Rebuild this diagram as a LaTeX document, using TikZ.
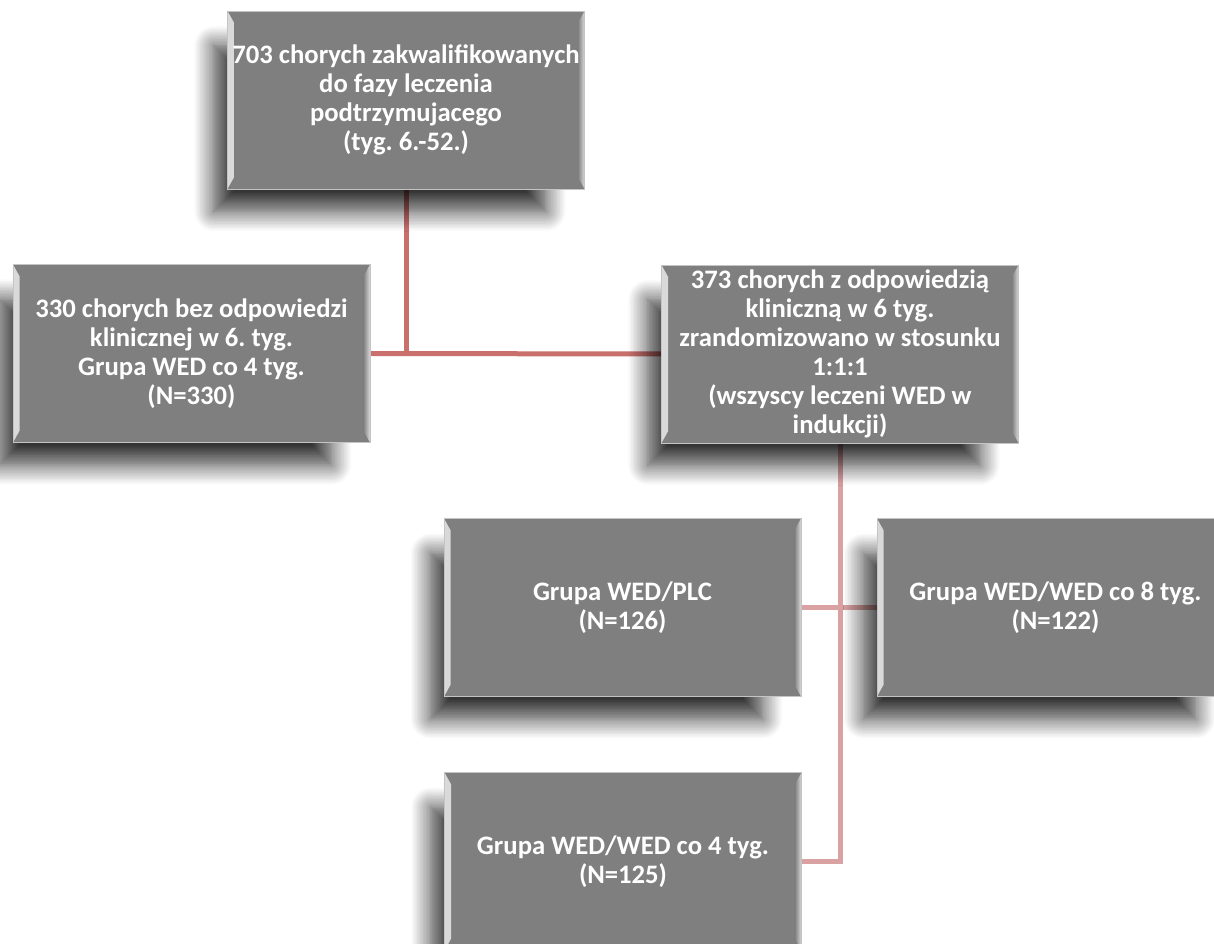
\documentclass[tikz,border=0pt]{standalone}
\usepackage{fontspec}
\setmainfont{Carlito}
\usetikzlibrary{shadows.blur,calc}
\frenchspacing

\definecolor{boxgray}{HTML}{7F7F7F}
\definecolor{boxedge}{HTML}{C4C4C4}
\definecolor{bevellight}{HTML}{DADADA}
\definecolor{linkdark}{HTML}{C96F6C}
\definecolor{linklight}{HTML}{D9A1A1}

\pgfdeclarelayer{background}
\pgfsetlayers{background,main}

\tikzset{
  bevel/.style={
    path picture={
      \fill[left color=bevellight, right color=boxgray]
        (path picture bounding box.south west) -- (path picture bounding box.north west)
        -- ++(5pt,-9pt) -- ($(path picture bounding box.south west)+(5pt,9pt)$) -- cycle;
      \fill[right color=bevellight, left color=boxgray]
        (path picture bounding box.south east) -- (path picture bounding box.north east)
        -- ++(-5pt,-9pt) -- ($(path picture bounding box.south east)+(-5pt,9pt)$) -- cycle;
    }},
  grpbox/.style={bevel, fill=boxgray, draw=boxedge, line width=0.6pt,
    minimum width=267.75pt, minimum height=133.5pt, inner sep=0pt,
    align=center, text=white, font=\fontsize{20}{21.75}\selectfont\bfseries,
    blur shadow={shadow xshift=-21pt, shadow yshift=-23pt, shadow scale=0.93,
      shadow blur radius=16pt, shadow blur steps=14, shadow opacity=80}},
  link/.style={line width=3.75pt},
}

\begin{document}
\begin{tikzpicture}[x=0.75pt, y=-0.75pt]

  \useasboundingbox (0,0) rectangle (1214,944);

  \node[grpbox] (start) at (406,100)
    {703 chorych zakwalifikowanych\\ do fazy leczenia\\ podtrzymujacego\\ (tyg. 6.-52.)};
  \node[grpbox] (nonresp) at (191.5,353.5)
    {330 chorych bez odpowiedzi\\ klinicznej w 6. tyg.\\ Grupa WED co 4 tyg.\\ (N=330)};
  \node[grpbox] (resp) at (840,354)
    {373 chorych z odpowiedzią\\ kliniczną w 6 tyg.\\ zrandomizowano w stosunku\\ 1:1:1\\
     (wszyscy leczeni WED w\\ indukcji)};
  \node[grpbox] (plc) at (622.5,607.5) {Grupa WED/PLC\\ (N=126)};
  \node[grpbox] (q8) at (1055.5,607.5) {Grupa WED/WED co 8 tyg.\\ (N=122)};
  \node[grpbox] (q4) at (623,861.5) {Grupa WED/WED co 4 tyg.\\ (N=125)};

  \begin{pgfonlayer}{background}
    \draw[link, linkdark] (start.south) -- (start.south |- nonresp.east); %% start -> split
    \draw[link, linkdark] (nonresp.east) -- (resp.west);
    \draw[link, linklight] (resp.south) |- (q4.east); %% resp -> q4
    \draw[link, linklight] (plc.east) -- (q8.west);
  \end{pgfonlayer}
\end{tikzpicture}
\end{document}
